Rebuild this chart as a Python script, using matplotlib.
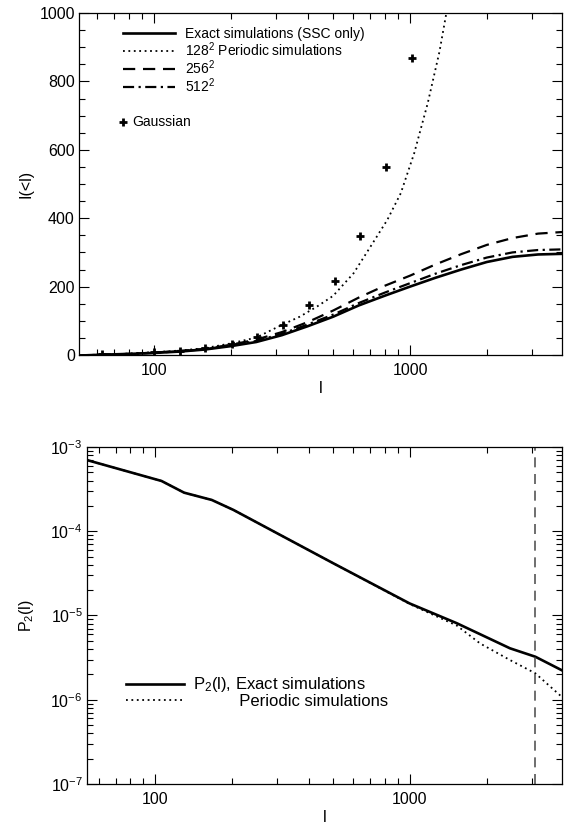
import numpy as np
import matplotlib
matplotlib.use("Agg")
import matplotlib.pyplot as plt
from matplotlib.lines import Line2D
from matplotlib.ticker import MultipleLocator, LogLocator, NullFormatter, FixedLocator, FixedFormatter

plt.rcParams['font.family'] = ['Liberation Sans', 'DejaVu Sans']
plt.rcParams['mathtext.fontset'] = 'custom'
plt.rcParams['mathtext.rm'] = 'Liberation Sans'
plt.rcParams['mathtext.it'] = 'Liberation Sans:italic'
plt.rcParams['mathtext.bf'] = 'Liberation Sans:bold'

# top panel: cumulative I(<l)
ell = [50, 63, 79, 100, 126, 158, 200, 251, 316, 398, 501, 631, 794, 1000,
       1259, 1585, 1995, 2512, 3162, 4000]
exact = [-2, 1, 3, 6, 10, 16, 26, 38, 58, 84, 112, 145, 173, 200,
         226, 250, 272, 287, 294, 296]
per512 = [-2, 1, 3, 6, 11, 17, 28, 41, 62, 89, 118, 152, 182, 210,
          238, 263, 285, 300, 307, 309]
per256 = [-2, 1, 3, 7, 12, 18, 30, 45, 67, 96, 130, 168, 202, 232,
          265, 295, 322, 342, 355, 360]

ell128 = [50, 63, 79, 100, 126, 158, 200, 251, 316, 371, 432, 501, 602, 701,
          815, 920, 1038, 1172, 1302, 1413]
per128 = [-2, 1, 4, 8, 13, 20, 34, 51, 88, 112, 141, 173, 239, 317,
          395, 473, 590, 736, 886, 1035]

ell_gauss = [63, 100, 126, 159, 201, 253, 319, 403, 509, 640, 805, 1016]
gauss = [3, 8, 13, 20, 32, 54, 88, 145, 216, 348, 551, 869]

# bottom panel: P2(l)
ell_p2 = [54, 106, 130, 167, 203, 500, 997, 1526, 2468, 3104, 3930]
p2_exact = [7.0e-4, 3.95e-4, 2.87e-4, 2.35e-4, 1.79e-4, 4.17e-5, 1.39e-5,
            8.1e-6, 4.08e-6, 3.24e-6, 2.25e-6]
ell_p2per = [54, 106, 130, 167, 203, 500, 997, 1250, 1526, 1884,
             2468, 3104, 3930]
p2_per = [7.0e-4, 3.95e-4, 2.87e-4, 2.35e-4, 1.79e-4, 4.17e-5, 1.37e-5,
          1.0e-5, 7.6e-6, 4.66e-6, 2.96e-6, 2.06e-6, 1.09e-6]
ell_cut = 3100

fig = plt.figure(figsize=(5.64, 8.25), dpi=100)
ax1 = fig.add_axes([0.140, 0.5697, 0.8565, 0.4145])
ax2 = fig.add_axes([0.154, 0.0497, 0.8425, 0.4085])


def style(ax):
    ax.tick_params(which='both', direction='in', top=True, right=True,
                   labelsize=11.5, width=0.8)
    ax.tick_params(which='major', length=7)
    ax.tick_params(which='minor', length=4)
    ax.tick_params(axis='x', pad=6)
    ax.tick_params(axis='y', pad=3)
    for s in ax.spines.values():
        s.set_linewidth(0.9)


# ---- top
ax1.plot(ell, exact, color='black', lw=1.9, ls='-')
ax1.plot(ell128, per128, color='black', lw=1.3, ls=(0, (1, 2)))
ax1.plot(ell, per256, color='black', lw=1.6, ls=(0, (5.5, 3.5)))
ax1.plot(ell, per512, color='black', lw=1.6, ls=(0, (5, 2, 1, 2)))
ax1.plot(ell_gauss, gauss, ls='none', marker='+', ms=6, mew=2, color='black')
ax1.set_xscale('log')
ax1.set_xlim(51, 3920)
ax1.set_ylim(0, 1000)
ax1.yaxis.set_major_locator(MultipleLocator(200))
ax1.yaxis.set_minor_locator(MultipleLocator(50))
ax1.xaxis.set_major_locator(FixedLocator([100, 1000]))
ax1.xaxis.set_major_formatter(FixedFormatter(['100', '1000']))
ax1.xaxis.set_minor_locator(LogLocator(base=10, subs=np.arange(2, 10)))
ax1.xaxis.set_minor_formatter(NullFormatter())
style(ax1)
ax1.set_xlabel('l', fontsize=11.5, labelpad=2)
ax1.set_ylabel('I(<l)', fontsize=11.5, labelpad=4)

h = [Line2D([], [], color='black', lw=1.9, ls='-'),
     Line2D([], [], color='black', lw=1.3, ls=(0, (1, 2))),
     Line2D([], [], color='black', lw=1.6, ls=(0, (5.5, 3.5))),
     Line2D([], [], color='black', lw=1.6, ls=(0, (5, 2, 1, 2)))]
labels = ['Exact simulations (SSC only)', '128$^2$ Periodic simulations',
          '256$^2$', '512$^2$']
leg = ax1.legend(h, labels, loc='upper left', bbox_to_anchor=(0.08, 0.975),
                 frameon=False, fontsize=10, handlelength=3.7,
                 handletextpad=0.75, labelspacing=-0.05, borderaxespad=0)
ax1.add_artist(leg)
hg = [Line2D([], [], ls='none', marker='+', ms=6, mew=2, color='black')]
ax1.legend(hg, ['Gaussian'], loc='upper left', bbox_to_anchor=(0.071, 0.717),
           frameon=False, fontsize=10, handlelength=0.6, handletextpad=0.4,
           borderaxespad=0)

# ---- bottom
ax2.plot(ell_p2, p2_exact, color='black', lw=1.9, ls='-')
ax2.plot(ell_p2per, p2_per, color='black', lw=1.3, ls=(0, (1, 2)))
ax2.axvline(ell_cut, color='#555555', lw=1.2, ls=(0, (6, 4)))
ax2.set_xscale('log')
ax2.set_yscale('log')
ax2.set_xlim(54, 3950)
ax2.set_ylim(1e-7, 1e-3)
ax2.xaxis.set_major_locator(FixedLocator([100, 1000]))
ax2.xaxis.set_major_formatter(FixedFormatter(['100', '1000']))
ax2.xaxis.set_minor_locator(LogLocator(base=10, subs=np.arange(2, 10)))
ax2.xaxis.set_minor_formatter(NullFormatter())
ax2.yaxis.set_minor_locator(LogLocator(base=10, subs=np.arange(2, 10), numticks=20))
ax2.yaxis.set_minor_formatter(NullFormatter())
style(ax2)
ax2.set_xlabel('l', fontsize=11.5, labelpad=2)
ax2.set_ylabel('P$_2$(l)', fontsize=11.5, labelpad=10)

h2 = [Line2D([], [], color='black', lw=1.9, ls='-'),
      Line2D([], [], color='black', lw=1.3, ls=(0, (1, 2)))]
ax2.legend(h2, ['P$_2$(l), Exact simulations',
                '          Periodic simulations'],
           loc='upper left', bbox_to_anchor=(0.068, 0.342), frameon=False,
           fontsize=12, handlelength=3.5, handletextpad=0.5,
           labelspacing=-0.03, borderaxespad=0)

fig.savefig('out.png', dpi=100)
